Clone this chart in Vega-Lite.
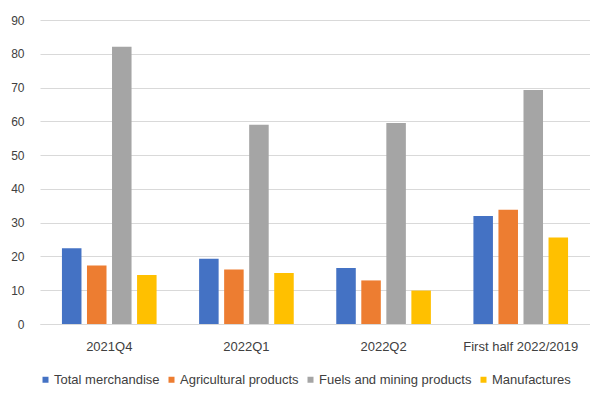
{
  "$schema": "https://vega.github.io/schema/vega-lite/v6.json",
  "width": 550,
  "height": 304,
  "autosize": "none",
  "padding": {"left": 40, "top": 20, "right": 0, "bottom": 71},
  "background": "white",
  "data": {
    "values": [
      {"period": "2021Q4", "series": "Total merchandise", "value": 22.4},
      {"period": "2021Q4", "series": "Agricultural products", "value": 17.3},
      {"period": "2021Q4", "series": "Fuels and mining products", "value": 82.1},
      {"period": "2021Q4", "series": "Manufactures", "value": 14.5},
      {"period": "2022Q1", "series": "Total merchandise", "value": 19.3},
      {"period": "2022Q1", "series": "Agricultural products", "value": 16.1},
      {"period": "2022Q1", "series": "Fuels and mining products", "value": 59.0},
      {"period": "2022Q1", "series": "Manufactures", "value": 15.1},
      {"period": "2022Q2", "series": "Total merchandise", "value": 16.6},
      {"period": "2022Q2", "series": "Agricultural products", "value": 12.9},
      {"period": "2022Q2", "series": "Fuels and mining products", "value": 59.5},
      {"period": "2022Q2", "series": "Manufactures", "value": 9.9},
      {"period": "First half 2022/2019", "series": "Total merchandise", "value": 32.0},
      {"period": "First half 2022/2019", "series": "Agricultural products", "value": 33.8},
      {"period": "First half 2022/2019", "series": "Fuels and mining products", "value": 69.3},
      {"period": "First half 2022/2019", "series": "Manufactures", "value": 25.6}
    ]
  },
  "mark": {"type": "bar"},
  "encoding": {
    "x": {
      "field": "period", "type": "nominal", "sort": null,
      "scale": {"paddingInner": 0.31, "paddingOuter": 0.16},
      "axis": {"title": null, "labelAngle": 0, "ticks": false, "domainColor": "#d9d9d9", "labelPadding": 16, "labelFontSize": 13, "labelColor": "#404040", "labelFont": "Liberation Sans"}
    },
    "xOffset": {
      "field": "series", "type": "nominal", "sort": ["Total merchandise", "Agricultural products", "Fuels and mining products", "Manufactures"],
      "scale": {"paddingInner": 0.22}
    },
    "y": {
      "field": "value", "type": "quantitative",
      "scale": {"domain": [0, 90]},
      "axis": {"title": null, "values": [0,10,20,30,40,50,60,70,80,90], "domain": false, "ticks": false, "gridColor": "#d9d9d9", "labelPadding": 16, "labelFontSize": 12, "labelColor": "#404040", "labelFont": "Liberation Sans"}
    },
    "color": {
      "field": "series", "type": "nominal",
      "sort": ["Total merchandise", "Agricultural products", "Fuels and mining products", "Manufactures"],
      "scale": {"domain": ["Total merchandise", "Agricultural products", "Fuels and mining products", "Manufactures"], "range": ["#4472C4", "#ED7D31", "#A5A5A5", "#FFC000"]},
      "legend": {"title": null, "orient": "none", "legendX": -1, "legendY": 353, "direction": "horizontal", "symbolType": "square", "symbolSize": 36, "labelFontSize": 13, "labelColor": "#404040", "labelFont": "Liberation Sans", "columnPadding": 5, "labelOffset": 2}
    }
  },
  "config": {"view": {"stroke": null}}
}
